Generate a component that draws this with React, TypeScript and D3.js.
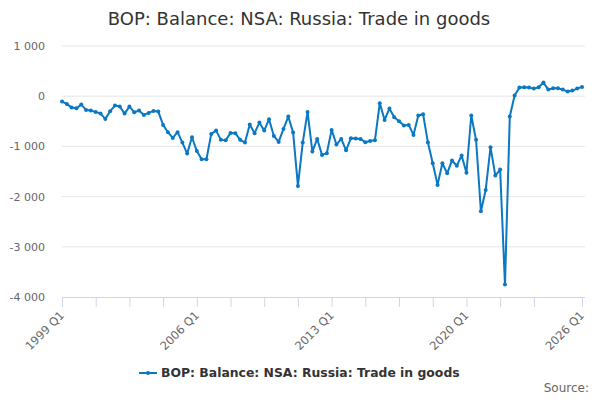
import React, { useEffect, useRef } from "react";
import * as d3 from "d3";

// quarterly series, 1999 Q1 .. 2026 Q1
const startYear = 1999;
const balance = [
  -107, -153, -227, -240, -167, -273, -287, -313, -347, -452,
  -299, -187, -207, -347, -207, -319, -287, -373, -333, -293,
  -307, -572, -717, -831, -717, -924, -1143, -817, -1093, -1255,
  -1255, -751, -685, -870, -877, -731, -737, -870, -924, -566,
  -737, -526, -685, -458, -791, -910, -651, -406, -725, -1787,
  -924, -313, -1104, -851, -1169, -1135, -671, -963, -851, -1078,
  -837, -844, -851, -917, -890, -877, -139, -472, -246, -419,
  -498, -585, -572, -771, -386, -359, -924, -1335, -1767, -1335,
  -1537, -1280, -1385, -1180, -1525, -385, -870, -2291, -1867, -1016,
  -1582, -1462, -3753, -406, 12, 171, 179, 171, 151, 179,
  271, 131, 159, 159, 131, 92, 112, 151, 185,
];
const quarters = balance.map(
  (_, i) => `${startYear + Math.floor(i / 4)} Q${(i % 4) + 1}`
);
const xTickIdx = [0, 7, 14, 21, 28, 35, 42, 49, 56, 63, 70, 77, 84, 91, 98, 108];
const xLabelIdx = [0, 28, 56, 84, 108];
const yTicks = [1000, 0, -1000, -2000, -3000, -4000];

const seriesName = "BOP: Balance: NSA: Russia: Trade in goods";
const color = "#0a78c2";

const W = 600;
const H = 400;
const font = "'DejaVu Sans', sans-serif";

export default function App() {
  const ref = useRef<SVGSVGElement | null>(null);

  useEffect(() => {
    const svg = d3.select(ref.current);
    svg.selectAll("*").remove();

    const x = d3.scaleLinear().domain([0, balance.length - 1]).range([62, 582]);
    const y = d3.scaleLinear().domain([-4000, 1000]).range([297, 46]);
    const fmt = (v: number) =>
      d3.format(",")(v).replace(/,/g, " ").replace("\u2212", "-");

    // title
    svg.append("text")
      .attr("x", 299)
      .attr("y", 25)
      .attr("text-anchor", "middle")
      .style("font-family", font)
      .style("font-size", "18px")
      .style("fill", "#333")
      .text(seriesName);

    // grid + y labels
    const gy = svg.append("g");
    yTicks.forEach((t) => {
      if (t !== -4000) {
        gy.append("line")
          .attr("x1", 62).attr("x2", 585)
          .attr("y1", y(t)).attr("y2", y(t))
          .attr("stroke", "#e6e6e6")
          .attr("stroke-width", 1);
      }
      gy.append("text")
        .attr("x", 45)
        .attr("y", y(t) + 4)
        .attr("text-anchor", "end")
        .style("font-family", font)
        .style("font-size", "11px")
        .style("fill", "#666")
        .text(fmt(t));
    });

    // x axis
    const gx = svg.append("g");
    gx.append("line")
      .attr("x1", 62).attr("x2", 585)
      .attr("y1", 297.5).attr("y2", 297.5)
      .attr("stroke", "#ccd6eb");
    xTickIdx.forEach((i) => {
      gx.append("line")
        .attr("x1", x(i) + 0.5).attr("x2", x(i) + 0.5)
        .attr("y1", 297).attr("y2", 307)
        .attr("stroke", "#ccd6eb");
    });
    xLabelIdx.forEach((i) => {
      gx.append("text")
        .attr("transform", `translate(${x(i) + 3},316) rotate(-45)`)
        .attr("text-anchor", "end")
        .style("font-family", font)
        .style("font-size", "11.5px")
        .style("fill", "#666")
        .text(quarters[i]);
    });

    // series
    const line = d3.line<number>()
      .x((_, i) => x(i))
      .y((d) => y(d));
    svg.append("path")
      .datum(balance)
      .attr("d", line)
      .attr("fill", "none")
      .attr("stroke", color)
      .attr("stroke-width", 2)
      .attr("stroke-linejoin", "round");
    svg.append("g")
      .selectAll("circle")
      .data(balance)
      .enter()
      .append("circle")
      .attr("cx", (_, i) => x(i))
      .attr("cy", (d) => y(d))
      .attr("r", 2)
      .attr("fill", color);

    // legend
    const lg = svg.append("g");
    lg.append("line")
      .attr("x1", 139).attr("x2", 157)
      .attr("y1", 373).attr("y2", 373)
      .attr("stroke", color)
      .attr("stroke-width", 2);
    lg.append("circle")
      .attr("cx", 148).attr("cy", 373).attr("r", 2)
      .attr("fill", color);
    lg.append("text")
      .attr("x", 161)
      .attr("y", 377)
      .style("font-family", font)
      .style("font-size", "12.4px")
      .style("font-weight", "bold")
      .style("fill", "#333")
      .text(seriesName);

    svg.append("text")
      .attr("x", 589)
      .attr("y", 392)
      .attr("text-anchor", "end")
      .style("font-family", font)
      .style("font-size", "12px")
      .style("fill", "#666")
      .text("Source:");
  }, []);

  return (
    <svg
      ref={ref}
      width={W}
      height={H}
      style={{ position: "absolute", left: 0, top: 0, background: "#fff" }}
    />
  );
}
